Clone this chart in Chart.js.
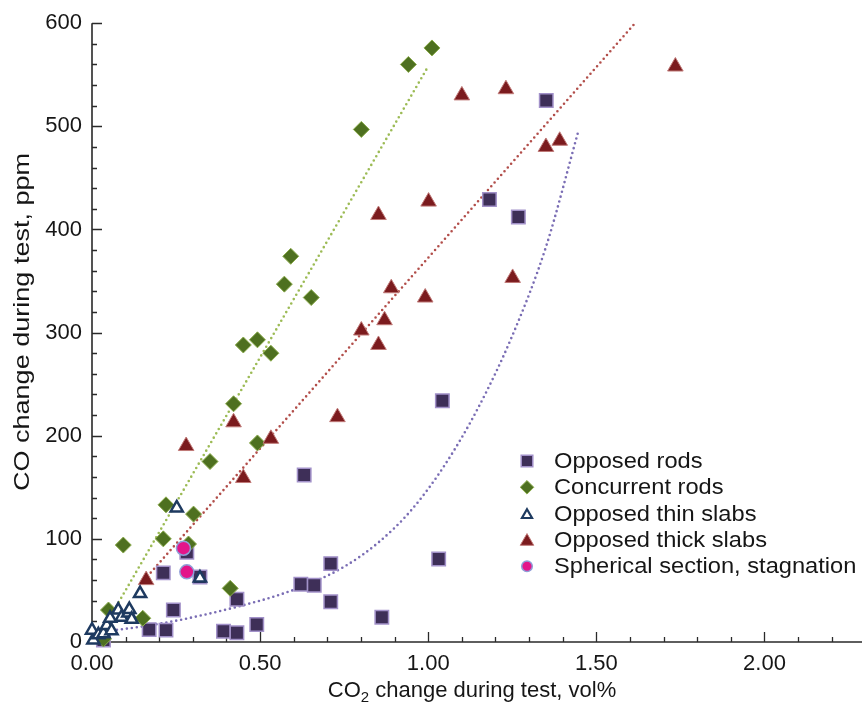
<!DOCTYPE html>
<html><head><meta charset="utf-8">
<script src="https://cdn.jsdelivr.net/npm/chart.js@4.4.1/dist/chart.umd.min.js"></script>
<style>html,body{margin:0;padding:0;background:#fff}#wrap{width:862px;height:707px}</style>
</head><body><div id="wrap"><canvas id="c" width="862" height="707"></canvas></div>
<script>
// ---------- data ----------
const seriesLabels = ['Opposed rods','Concurrent rods','Opposed thin slabs','Opposed thick slabs','Spherical section, stagnation'];

const opposedRodsX = [0.034,0.170,0.220,0.242,0.212,0.282,0.321,0.391,0.431,0.431,0.490,0.621,0.661,0.710,0.710,0.631,0.862,1.031,1.042,1.182,1.268,1.351];
const opposedRodsY = [2,12,11.5,31,67,87,63,10.5,9,41.5,17,56,55,76,39,162,24,80.5,234,429,412,525];

const concurrentRodsX = [0.034,0.049,0.093,0.151,0.212,0.220,0.287,0.302,0.351,0.411,0.421,0.450,0.492,0.492,0.532,0.572,0.591,0.652,0.801,0.941,1.011];
const concurrentRodsY = [3,31,94,23,100,133,95,124,175,52,231,288,293,193,280,347,374,334,497,560,576];

const thinSlabsX = [0.004,0.000,0.019,0.034,0.044,0.058,0.054,0.078,0.088,0.108,0.111,0.118,0.143,0.252,0.321];
const thinSlabsY = [2,11.5,7,8,16,11,23,31,24,28,31.5,22,47,130,62];

const thickSlabsX = [0.161,0.280,0.421,0.450,0.532,0.730,0.801,0.852,0.852,0.870,0.890,0.991,1.001,1.100,1.231,1.251,1.350,1.391,1.735];
const thickSlabsY = [60,190,213,159,197,218,302,288,414,312,343,334,427,530,536,353,480,486,558];

const sphericalX = [0.272,0.282];
const sphericalY = [91,68];

// dotted trend curves
const concurrentTrendX = [0.02,0.996];
const concurrentTrendY = [5,556];
const thickTrendX = [0.155,1.615];
const thickTrendY = [60,600];
const rodsTrendX = [0.03,0.17,0.30,0.43,0.55,0.65,0.75,0.85,0.95,1.05,1.15,1.25,1.35,1.447];
const rodsTrendY = [10,16,24,34,45,57,73,96,128,172,228,297,383,496];

const xTickValues = [0,0.5,1.0,1.5,2.0];
const yTickValues = [0,100,200,300,400,500,600];
const xMinorStep = 0.1, yMinorStep = 20;

// ---------- styles ----------
const FONT = '"Liberation Sans", Arial, sans-serif';
const TXT = '#161616';
const ST = {
  rods:   {pointStyle:'rect',    pointRadius:9.5, backgroundColor:'#3e2f58', borderColor:'#a291c9', pointBorderWidth:1.5},
  conc:   {pointStyle:'rectRot', pointRadius:8,   backgroundColor:'#4e7020', borderColor:'#8bab4c', pointBorderWidth:1},
  thin:   {pointStyle:'triangle',pointRadius:7,   backgroundColor:'#ffffff', borderColor:'#1e3a60', pointBorderWidth:2.5},
  thick:  {pointStyle:'triangle',pointRadius:9,   backgroundColor:'#7b1b1e', borderColor:'#c07a78', pointBorderWidth:1},
  sph:    {pointStyle:'circle',  pointRadius:7,   backgroundColor:'#e3158a', borderColor:'#8f9fd8', pointBorderWidth:1.5}
};
const pts = (xs, ys) => xs.map((x, i) => ({x: x, y: ys[i]}));

function markerDS(label, xs, ys, s, order) {
  return Object.assign({label: label, data: pts(xs, ys), showLine:false, order: order, clip:false,
    pointBackgroundColor: s.backgroundColor, pointBorderColor: s.borderColor,
    pointHoverRadius: s.pointRadius}, s);
}
function trendDS(xs, ys, color, order, mono) {
  return {label:'', data: pts(xs, ys), showLine:true, pointRadius:0, borderColor: color,
    borderWidth:2.6, borderDash:[0,5], borderCapStyle:'round', fill:false, order: order,
    tension: mono ? 0.4 : 0, cubicInterpolationMode: mono ? 'monotone' : 'default'};
}

const datasets = [
  markerDS(seriesLabels[4], sphericalX, sphericalY, ST.sph, 0),
  markerDS(seriesLabels[2], thinSlabsX, thinSlabsY, ST.thin, 1),
  markerDS(seriesLabels[3], thickSlabsX, thickSlabsY, ST.thick, 2),
  markerDS(seriesLabels[1], concurrentRodsX, concurrentRodsY, ST.conc, 3),
  markerDS(seriesLabels[0], opposedRodsX, opposedRodsY, ST.rods, 4),
  trendDS(concurrentTrendX, concurrentTrendY, '#9cbb55', 5, false),
  trendDS(thickTrendX, thickTrendY, '#b24e4a', 6, false),
  trendDS(rodsTrendX, rodsTrendY, '#7a6db4', 7, true)
];

function drawMarker(ctx, s, x, y, r) {
  ctx.save();
  ctx.fillStyle = s.backgroundColor; ctx.strokeStyle = s.borderColor; ctx.lineWidth = s.pointBorderWidth;
  ctx.beginPath();
  if (s.pointStyle === 'rect') { const h = r * Math.SQRT1_2; ctx.rect(x - h, y - h, 2*h, 2*h); }
  else if (s.pointStyle === 'rectRot') { ctx.moveTo(x, y - r); ctx.lineTo(x + r, y); ctx.lineTo(x, y + r); ctx.lineTo(x - r, y); ctx.closePath(); }
  else if (s.pointStyle === 'triangle') { const a = r*0.866; ctx.moveTo(x, y - r); ctx.lineTo(x + a, y + r/2); ctx.lineTo(x - a, y + r/2); ctx.closePath(); }
  else { ctx.arc(x, y, r, 0, Math.PI*2); }
  ctx.fill(); if (s.pointBorderWidth) ctx.stroke();
  ctx.restore();
}

const axesPlugin = {
  id:'axesPlugin',
  beforeDatasetsDraw(chart) {
    const {ctx, chartArea: a, scales: {x, y}} = chart;
    ctx.save();
    ctx.strokeStyle = '#2a2a2a'; ctx.lineWidth = 1.6;
    ctx.beginPath();
    ctx.moveTo(a.left, a.top); ctx.lineTo(a.left, a.bottom); ctx.lineTo(a.right, a.bottom);
    ctx.stroke();
    ctx.lineWidth = 1.3;
    ctx.beginPath();
    for (let v = 0; v <= x.max + 1e-9; v += xMinorStep) {
      const px = Math.round(x.getPixelForValue(v)) + 0.5;
      const major = xTickValues.some(t => Math.abs(t - v) < 1e-6);
      ctx.moveTo(px, a.bottom); ctx.lineTo(px, a.bottom - (major ? 10 : 5));
    }
    for (let v = 0; v <= y.max + 1e-9; v += yMinorStep) {
      const py = Math.round(y.getPixelForValue(v)) + 0.5;
      const major = yTickValues.some(t => Math.abs(t - v) < 1e-6);
      ctx.moveTo(a.left, py); ctx.lineTo(a.left + (major ? 10 : 5), py);
    }
    ctx.stroke();
    ctx.restore();
  },
  afterDraw(chart) {
    const {ctx, chartArea: a} = chart;
    ctx.save();
    ctx.fillStyle = TXT;
    // y title
    ctx.font = '26px ' + FONT;
    ctx.textAlign = 'center'; ctx.textBaseline = 'middle';
    ctx.save(); ctx.translate(23, 322); ctx.rotate(-Math.PI/2); ctx.scale(1.04, 0.86);
    ctx.fillText('CO change during test, ppm', 0, 0); ctx.restore();
    // x title with subscript
    const p1 = 'CO', p2 = '2', p3 = ' change during test, vol%';
    ctx.textAlign = 'left'; ctx.textBaseline = 'alphabetic';
    ctx.font = '22px ' + FONT; const w1 = ctx.measureText(p1).width, w3 = ctx.measureText(p3).width;
    ctx.font = '15px ' + FONT; const w2 = ctx.measureText(p2).width;
    let sx = (a.left + a.right)/2 - (w1 + w2 + w3)/2 - 5; const by = 697;
    ctx.font = '22px ' + FONT; ctx.fillText(p1, sx, by); sx += w1;
    ctx.font = '15px ' + FONT; ctx.fillText(p2, sx, by + 5); sx += w2;
    ctx.font = '22px ' + FONT; ctx.fillText(p3, sx, by);
    // legend
    const order = [[seriesLabels[0], ST.rods, 8.2], [seriesLabels[1], ST.conc, 6.8], [seriesLabels[2], ST.thin, 5.8], [seriesLabels[3], ST.thick, 7.8], [seriesLabels[4], ST.sph, 5.3]];
    const lx = 527, tx = 554; let ly = 461;
    ctx.font = '22px ' + FONT; ctx.textBaseline = 'middle';
    order.forEach(o => {
      const s = Object.assign({}, o[1]);
      if (s.pointStyle === 'triangle' && s.backgroundColor === '#ffffff') s.pointBorderWidth = 2.2;
      drawMarker(ctx, s, lx, ly + (s.pointStyle === 'triangle' ? 1.5 : 0), o[2]);
      ctx.save(); ctx.translate(tx, ly + 1); ctx.scale(1.075, 1);
      ctx.fillStyle = TXT; ctx.fillText(o[0], 0, 0); ctx.restore();
      ly += 26.3;
    });
    ctx.restore();
  }
};

new Chart(document.getElementById('c'), {
  type:'scatter',
  data:{datasets: datasets},
  options:{
    responsive:false, animation:false, devicePixelRatio:1,
    layout:{autoPadding:false, padding:{top:18, left:0, right:0, bottom:0}},
    plugins:{legend:{display:false}, tooltip:{enabled:false}},
    elements:{line:{borderJoinStyle:'round'}},
    scales:{
      x:{type:'linear', min:0, max:2.29,
        grid:{display:false, drawTicks:false}, border:{display:false},
        afterBuildTicks: s => { s.ticks = xTickValues.map(v => ({value:v})); },
        afterFit: s => { s.height = 65; },
        ticks:{padding:9, color:TXT, font:{family:FONT, size:22}, maxRotation:0, autoSkip:false,
          callback: v => Number(v).toFixed(2)}},
      y:{type:'linear', min:0, max:600,
        grid:{display:false, drawTicks:false}, border:{display:false},
        afterBuildTicks: s => { s.ticks = yTickValues.map(v => ({value:v})); },
        afterFit: s => { s.width = 92; },
        ticks:{padding:10, color:TXT, font:{family:FONT, size:22}, autoSkip:false,
          callback: v => String(v)}}
    }
  },
  plugins:[axesPlugin]
});
</script>
</body></html>
